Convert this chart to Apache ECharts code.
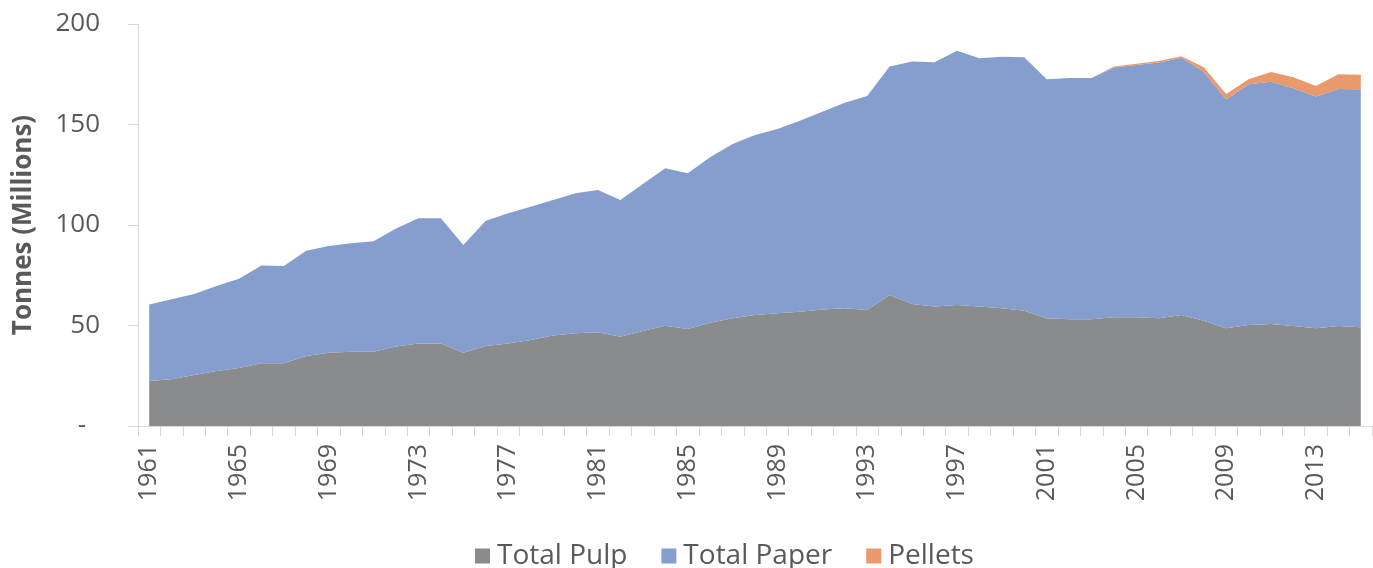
<!DOCTYPE html>
<html>
<head>
<meta charset="utf-8">
<script src="https://cdn.jsdelivr.net/npm/echarts@6.0.0/dist/echarts.min.js"></script>
<style>
  html, body { margin: 0; padding: 0; background: #fff; }
  #chart { width: 1373px; height: 568px; }
</style>
</head>
<body>
<div id="chart"></div>
<script>
// years 1961 - 2015
const years = [
  '1961', '1962', '1963', '1964', '1965', '1966', '1967', '1968', '1969', '1970',
  '1971', '1972', '1973', '1974', '1975', '1976', '1977', '1978', '1979', '1980',
  '1981', '1982', '1983', '1984', '1985', '1986', '1987', '1988', '1989', '1990',
  '1991', '1992', '1993', '1994', '1995', '1996', '1997', '1998', '1999', '2000',
  '2001', '2002', '2003', '2004', '2005', '2006', '2007', '2008', '2009', '2010',
  '2011', '2012', '2013', '2014', '2015'
]

// million tonnes
const totalPulp = [
  22.4, 23.2, 25.4, 27.4, 28.9, 31.2, 31.2, 34.8, 36.5, 37.0,
  37.0, 39.5, 41.1, 41.1, 36.5, 39.8, 41.1, 42.8, 45.0, 46.1,
  46.6, 44.4, 47.3, 49.9, 48.3, 51.4, 53.6, 55.2, 56.1, 56.9,
  58.0, 58.6, 57.7, 65.2, 60.7, 59.4, 60.2, 59.4, 58.6, 57.4,
  53.6, 53.1, 53.1, 54.1, 54.1, 53.6, 55.2, 52.4, 48.6, 50.2,
  50.7, 49.8, 48.6, 49.8, 49.1
]

const totalPaper = [
  38.1, 39.8, 40.3, 42.3, 44.4, 48.6, 48.4, 52.4, 53.1, 53.9,
  54.9, 58.8, 62.2, 62.2, 53.5, 62.3, 64.7, 66.3, 67.4, 69.7,
  70.8, 68.0, 73.1, 78.3, 77.4, 82.3, 86.7, 89.6, 91.7, 95.0,
  98.4, 102.2, 106.5, 113.6, 120.6, 121.6, 126.5, 123.5, 125.1, 126.0,
  118.9, 120.0, 120.0, 124.3, 125.5, 127.2, 128.0, 123.9, 113.9, 119.8,
  120.6, 118.2, 115.3, 117.9, 118.4
]

const pellets = [
  0, 0, 0, 0, 0, 0, 0, 0, 0, 0,
  0, 0, 0, 0, 0, 0, 0, 0, 0, 0,
  0, 0, 0, 0, 0, 0, 0, 0, 0, 0,
  0, 0, 0, 0, 0, 0, 0, 0, 0, 0,
  0, 0, 0, 0.5, 0.6, 0.8, 0.8, 2.2, 2.7, 2.5,
  4.8, 5.5, 5.3, 7.3, 7.3
]

const textColor = '#595959'
const lineColor = '#d9d9d9'
const font = '"Open Sans", sans-serif'

const chart = echarts.init(document.getElementById('chart'))

const areaSeries = (name, data, color) => ({
  name,
  type: 'line',
  stack: 'total',
  data,
  symbol: 'none',
  lineStyle: { width: 0 },
  areaStyle: { color, opacity: 1 },
  itemStyle: { color },
  emphasis: { disabled: true }
})

chart.setOption({
  animation: false,
  textStyle: { fontFamily: font },
  grid: { left: 138, right: 1, top: 24, bottom: 142, containLabel: false },
  legend: {
    left: 470,
    top: 537,
    icon: 'rect',
    itemWidth: 15,
    itemHeight: 15,
    itemGap: 34,
    textStyle: { color: textColor, fontSize: 28, fontFamily: font, padding: [0, 0, 0, 2] }
  },
  xAxis: {
    type: 'category',
    data: years,
    boundaryGap: true,
    axisLine: { lineStyle: { color: lineColor, width: 1 } },
    axisTick: { show: true, interval: 0, length: 10, lineStyle: { color: lineColor } },
    axisLabel: {
      interval: 3,
      rotate: 90,
      margin: 18,
      color: textColor,
      fontSize: 25,
      fontFamily: font
    },
    splitLine: { show: false }
  },
  yAxis: {
    type: 'value',
    min: 0,
    max: 200,
    interval: 50,
    name: 'Tonnes (Millions)',
    nameLocation: 'middle',
    nameRotate: 90,
    nameGap: 101,
    nameTextStyle: { color: textColor, fontSize: 26, fontWeight: 'bold', fontFamily: font },
    axisLine: { show: true, lineStyle: { color: lineColor, width: 1 } },
    axisTick: { show: true, length: 10, lineStyle: { color: lineColor } },
    axisLabel: {
      margin: 38,
      color: textColor,
      fontSize: 26,
      fontFamily: font,
      formatter: v => (v === 0 ? '{dash|-}' : String(v)),
      rich: {
        dash: { fontSize: 26, color: textColor, fontFamily: font, padding: [0, 14, 0, 0] }
      }
    },
    splitLine: { show: false }
  },
  series: [
    areaSeries('Total Pulp', totalPulp, '#8a8b8d'),
    areaSeries('Total Paper', totalPaper, '#869ece'),
    areaSeries('Pellets', pellets, '#e89a6c')
  ]
})
</script>
</body>
</html>
